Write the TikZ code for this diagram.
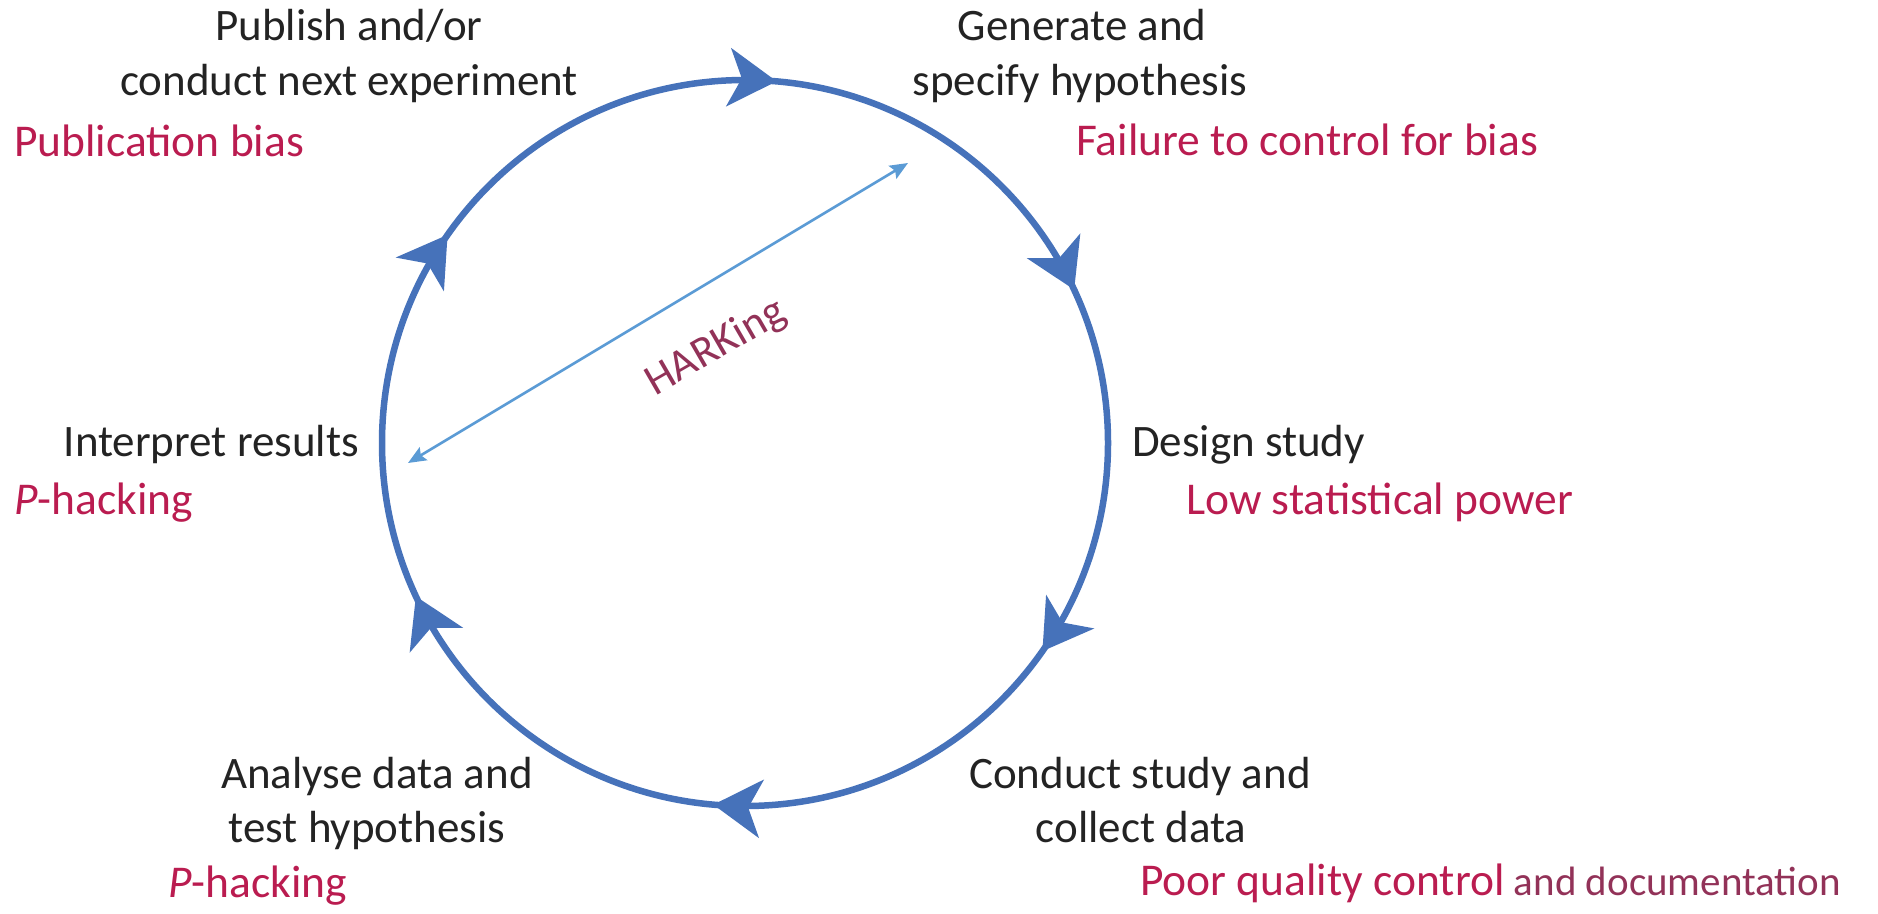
\documentclass[tikz,border=0pt]{standalone}
\usepackage{fontspec}
\setmainfont{Carlito}
\usetikzlibrary{arrows.meta,decorations.markings}
\definecolor{circblue}{RGB}{70,114,186}
\definecolor{harkblue}{RGB}{91,155,213}
\definecolor{biasred}{RGB}{186,28,80}
\definecolor{darkred}{RGB}{146,50,88}
\definecolor{labgray}{RGB}{35,35,35}
\begin{document}
\begin{tikzpicture}[x=1pt,y=-1pt,
  lab/.style={inner sep=0pt,text=labgray,font=\fontsize{45}{54}\selectfont},
  bias/.style={inner sep=0pt,text=biasred,font=\fontsize{45.5}{54}\selectfont},
  cyc/.style={line width=6.5pt,draw=circblue},
  hark/.style={line width=2.6pt,draw=harkblue,{Stealth[length=18pt,width=15pt,inset=3pt]}-{Stealth[length=18pt,width=15pt,inset=3pt]}}
]
\useasboundingbox (0,0) rectangle (1878,913);
\coordinate (c) at (745,443);
% cycle circle with arrowheads (clockwise)
\draw[cyc,postaction={decorate},decoration={markings,
  mark=at position 0.0139 with {\arrow[circblue]{Stealth[length=48pt,width=58pt,inset=13pt]}},
  mark=at position 0.1806 with {\arrow[circblue]{Stealth[length=48pt,width=58pt,inset=13pt]}},
  mark=at position 0.3472 with {\arrow[circblue]{Stealth[length=48pt,width=58pt,inset=13pt]}},
  mark=at position 0.5139 with {\arrow[circblue]{Stealth[length=48pt,width=58pt,inset=13pt]}},
  mark=at position 0.6806 with {\arrow[circblue]{Stealth[length=48pt,width=58pt,inset=13pt]}},
  mark=at position 0.8472 with {\arrow[circblue]{Stealth[length=48pt,width=58pt,inset=13pt]}}}]
  (c) ++(0,-363) arc[start angle=-90,end angle=270,radius=363];
% HARKing
\coordinate (hA) at (408,463);
\coordinate (hB) at (908,163);
\draw[hark] (hA) -- (hB);
\node[inner sep=0pt,text=darkred,font=\fontsize{44}{52}\selectfont,rotate=30] (hk) at (716,348) {HARKing};
% labels
\node[lab,anchor=base] (pub1) at (349,40) {Publish and/or};
\node[lab,anchor=base] (pub2) at (349,95) {conduct next experiment};
\node[bias,anchor=base west] (pubb) at (14,156) {Publication bias};
\node[lab,anchor=base] (gen1) at (1082,40) {Generate and};
\node[lab,anchor=base] (gen2) at (1080,95) {specify hypothesis};
\node[bias,anchor=base west] (genb) at (1076,155) {Failure to control for bias};
\node[lab,anchor=base west] (des) at (1132,456) {Design study};
\node[bias,anchor=base west] (desb) at (1186,514) {Low statistical power};
\node[lab,anchor=base east] (int) at (359,456) {Interpret results};
\node[bias,anchor=base west] (intb) at (14,514) {\textit{P}-hacking};
\node[lab,anchor=base] (ana1) at (377,788) {Analyse data and};
\node[lab,anchor=base] (ana2) at (367,842) {test hypothesis};
\node[bias,anchor=base west] (anab) at (168,897) {\textit{P}-hacking};
\node[lab,anchor=base] (con1) at (1140,788) {Conduct study and};
\node[lab,anchor=base] (con2) at (1141,842) {collect data};
\node[bias,anchor=base west] (conb) at (1140,895) {Poor quality control\textcolor{darkred}{\fontsize{41}{48}\selectfont{} and documentation}};
\end{tikzpicture}
\end{document}
